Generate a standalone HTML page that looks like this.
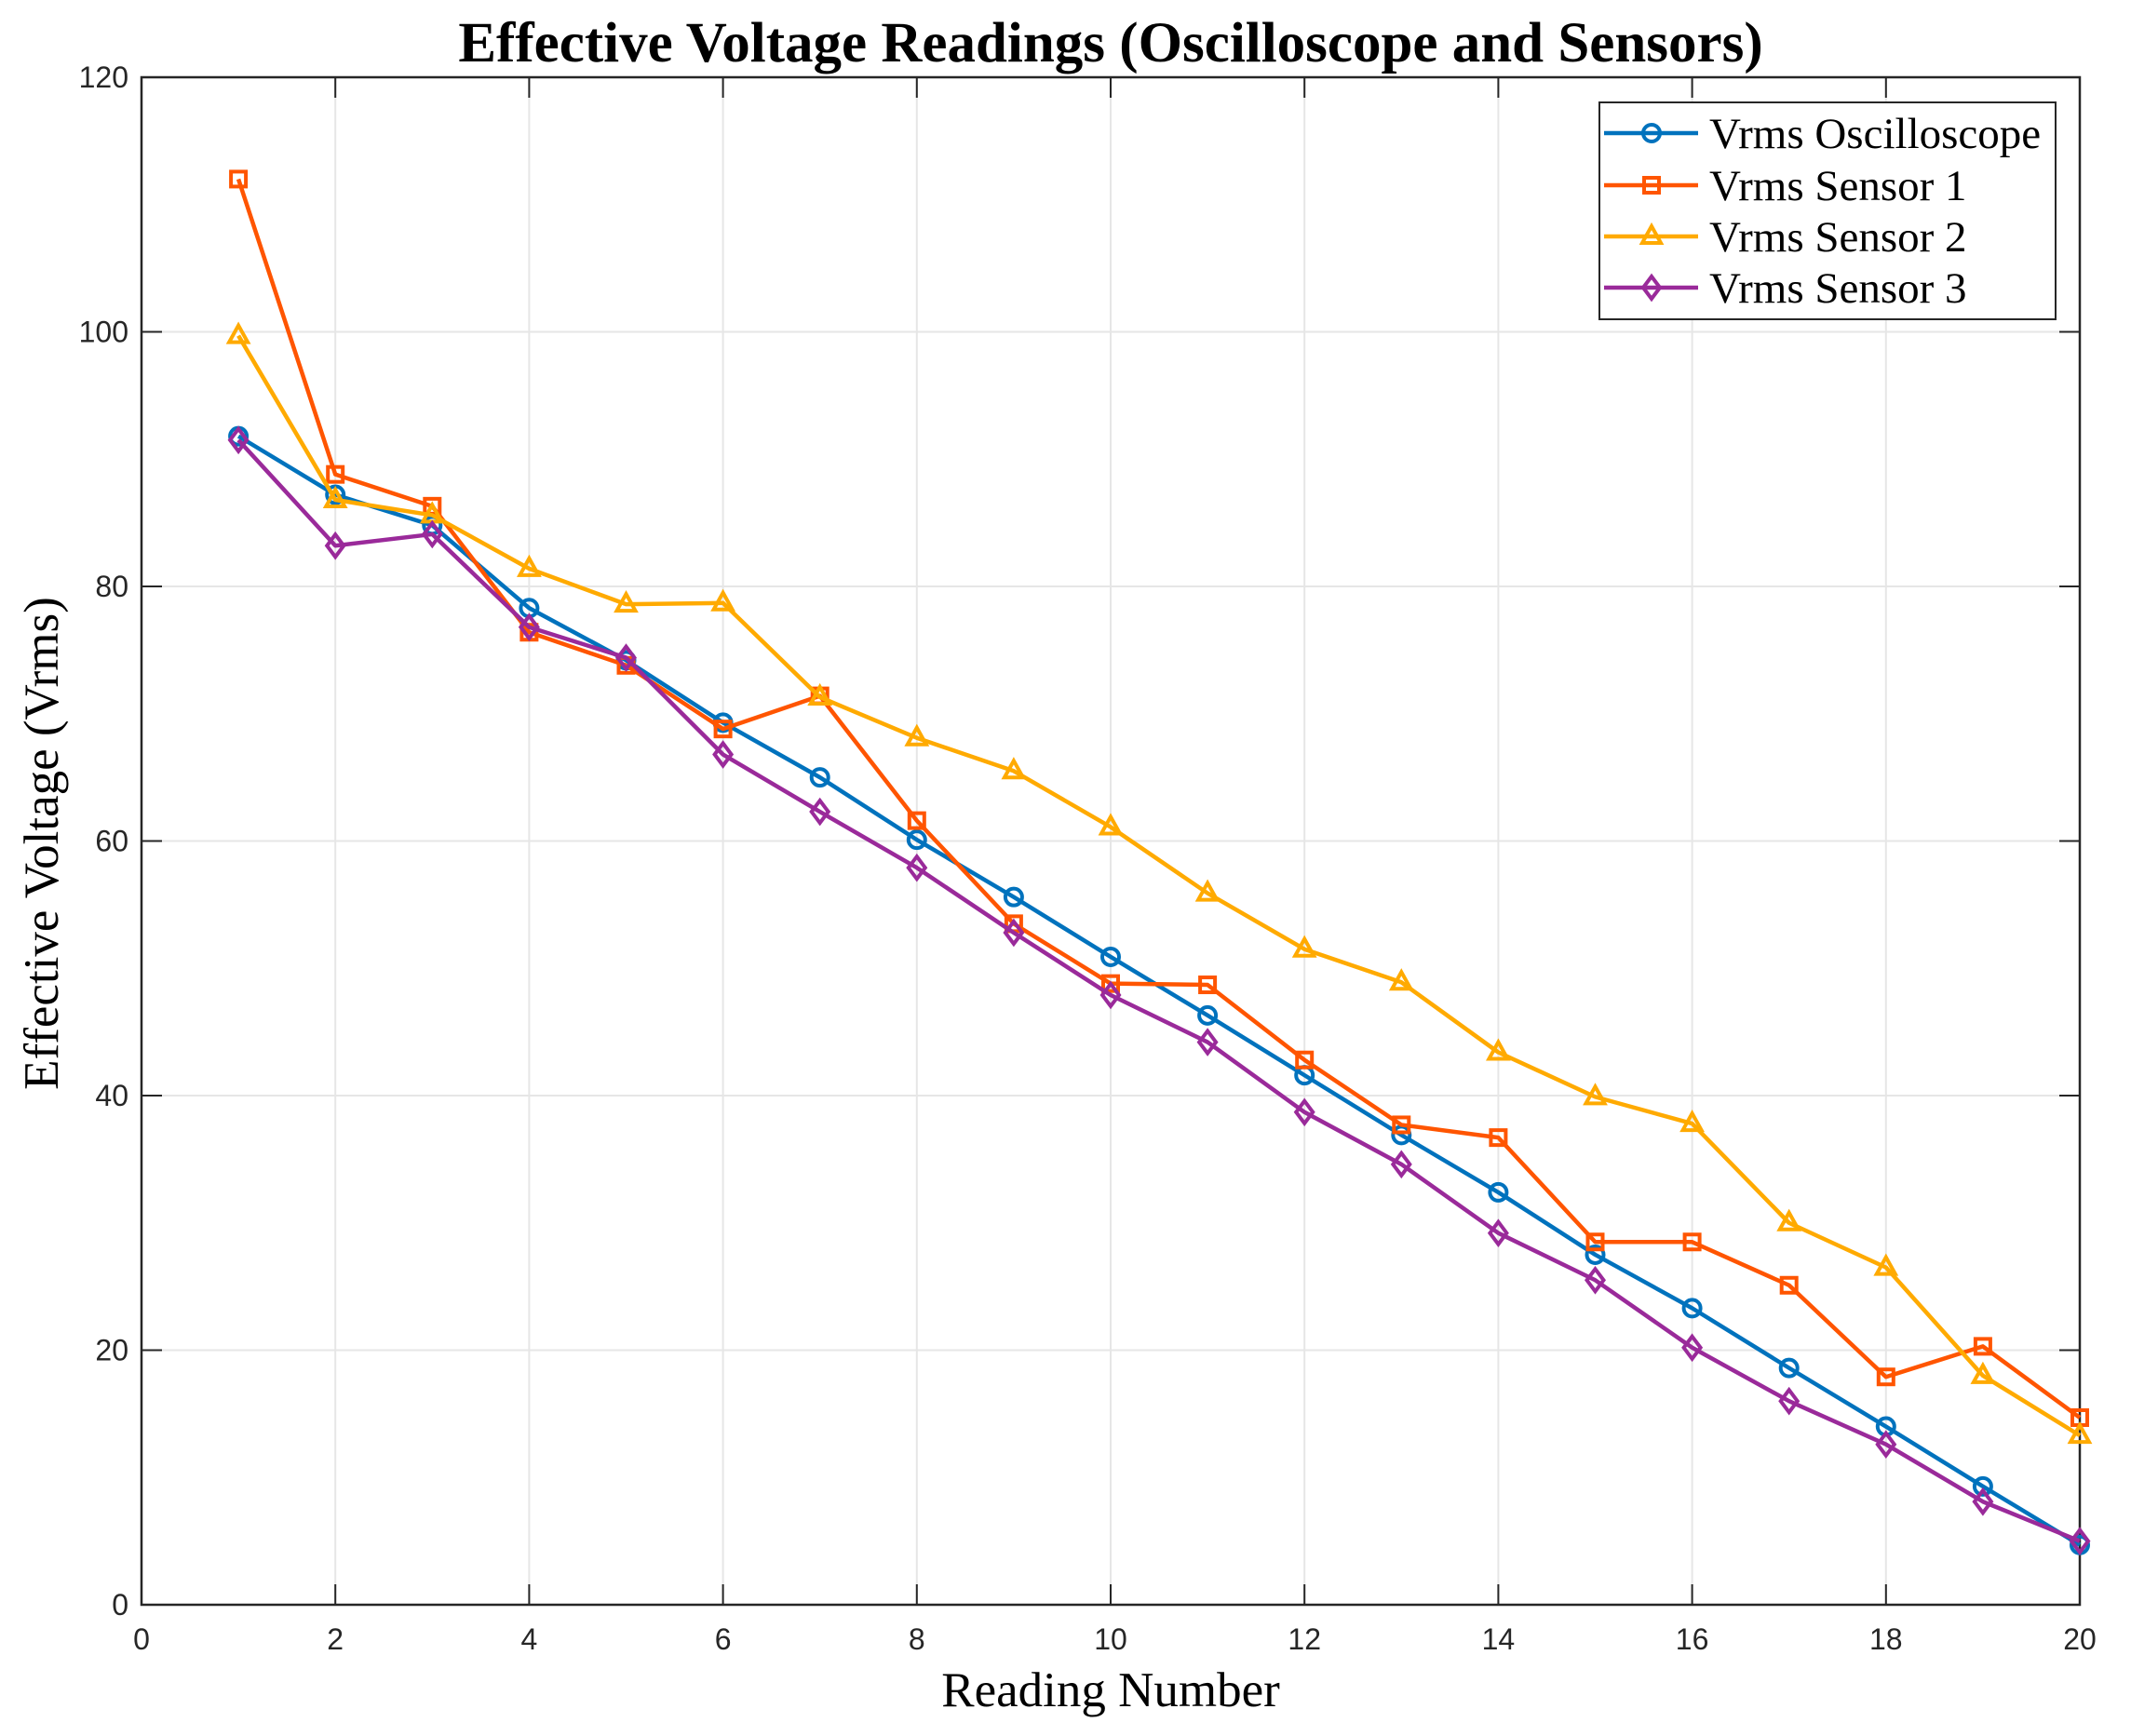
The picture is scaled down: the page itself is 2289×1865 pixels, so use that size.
<!DOCTYPE html>
<html><head><meta charset="utf-8"><style>
html,body{margin:0;padding:0;background:#fff;}
svg{display:block;}
</style></head><body>
<svg id="chart" width="2289" height="1865" xmlns="http://www.w3.org/2000/svg">
<rect width="2289" height="1865" fill="#fff"/>
<g id="grid"></g>
<g id="axes"></g>
<g id="series"></g>
<text x="1193" y="66" text-anchor="middle" font-family="Liberation Serif, serif" font-weight="bold" font-size="61">Effective Voltage Readings (Oscilloscope and Sensors)</text>
<text x="1193" y="1833" text-anchor="middle" font-family="Liberation Serif, serif" font-size="53">Reading Number</text>
<text transform="translate(62,906) rotate(-90)" text-anchor="middle" font-family="Liberation Serif, serif" font-size="53">Effective Voltage (Vrms)</text>
<g id="legend"></g>
</svg>
<script>
const readings = [1,2,3,4,5,6,7,8,9,10,11,12,13,14,15,16,17,18,19,20];
const oscValues = [91.8,87.2,84.8,78.3,74.2,69.3,65.0,60.1,55.6,50.9,46.3,41.6,36.9,32.4,27.5,23.3,18.6,14.0,9.3,4.7];
const sensor1Values = [112,88.8,86.3,76.4,73.8,68.8,71.4,61.6,53.5,48.8,48.7,42.8,37.7,36.7,28.5,28.5,25.1,17.9,20.3,14.7];
const sensor2Values = [99.7,86.8,85.6,81.4,78.6,78.7,71.3,68.1,65.5,61.1,55.9,51.5,48.9,43.4,39.9,37.8,30.0,26.5,18.0,13.3];
const sensor3Values = [91.5,83.2,84.1,76.8,74.4,66.8,62.3,57.9,52.8,47.9,44.2,38.7,34.6,29.2,25.5,20.2,16.0,12.6,8.1,5.0];
const seriesNames = ["Vrms Oscilloscope","Vrms Sensor 1","Vrms Sensor 2","Vrms Sensor 3"];
const xTicks = [0,2,4,6,8,10,12,14,16,18,20];
const yTicks = [0,20,40,60,80,100,120];

const L=152,R=2234,T=83,B=1724;
const xs=v=>L+(v-0)/20*(R-L);
const ys=v=>B-(v-0)/120*(B-T);
const NS="http://www.w3.org/2000/svg";
function mk(tag,attrs,parent){const e=document.createElementNS(NS,tag);for(const k in attrs)e.setAttribute(k,attrs[k]);parent.appendChild(e);return e;}
const grid=document.getElementById('grid'),axes=document.getElementById('axes'),ser=document.getElementById('series'),leg=document.getElementById('legend');

xTicks.forEach(t=>{
  const g=mk('line',{x1:xs(t),x2:xs(t),y1:T,y2:B,stroke:'#e6e6e6','stroke-width':2},grid);
  
  
  mk('line',{x1:xs(t),x2:xs(t),y1:B,y2:B-22,stroke:'#262626','stroke-width':2},axes);
  mk('line',{x1:xs(t),x2:xs(t),y1:T,y2:T+22,stroke:'#262626','stroke-width':2},axes);
  const lb=mk('text',{x:xs(t),y:B+48,'text-anchor':'middle','font-family':'Liberation Sans, sans-serif','font-size':32,fill:'#262626'},axes);
  lb.textContent=t;
  
  
});
yTicks.forEach(t=>{
  const g=mk('line',{x1:L,x2:R,y1:ys(t),y2:ys(t),stroke:'#e6e6e6','stroke-width':2},grid);
  
  
  mk('line',{x1:L,x2:L+22,y1:ys(t),y2:ys(t),stroke:'#262626','stroke-width':2},axes);
  mk('line',{x1:R,x2:R-22,y1:ys(t),y2:ys(t),stroke:'#262626','stroke-width':2},axes);
  const lb=mk('text',{x:L-14,y:ys(t)+11,'text-anchor':'end','font-family':'Liberation Sans, sans-serif','font-size':32,fill:'#262626'},axes);
  lb.textContent=t;
  
  
});
const frame=mk('rect',{x:L,y:T,width:R-L,height:B-T,fill:'none',stroke:'#262626','stroke-width':2.5},axes);



const colors=['#0072BD','#FF5500','#FFAA00','#9A2A9A'];
const markers=['circle','square','triangle','diamond'];
function marker(type,x,y,c,p){
  const s=9;
  if(type==='circle')return mk('circle',{cx:x,cy:y,r:s,fill:'none',stroke:c,'stroke-width':4},p);
  if(type==='square')return mk('rect',{x:x-s+1,y:y-s+1,width:2*s-2,height:2*s-2,fill:'none',stroke:c,'stroke-width':4},p);
  if(type==='triangle')return mk('polygon',{points:`${x},${y-s-2} ${x+s+1},${y+s-2} ${x-s-1},${y+s-2}`,fill:'none',stroke:c,'stroke-width':4},p);
  return mk('polygon',{points:`${x},${y-s-3} ${x+s},${y} ${x},${y+s+3} ${x-s},${y}`,fill:'none',stroke:c,'stroke-width':4},p);
}
[oscValues,sensor1Values,sensor2Values,sensor3Values].forEach((vals,i)=>{
  const g=mk('g',{},ser);
  
  
  const pts=vals.map((v,j)=>xs(readings[j])+','+ys(v)).join(' ');
  const pl=mk('polyline',{points:pts,fill:'none',stroke:colors[i],'stroke-width':4.5,'stroke-linejoin':'round'},g);
  
  
  vals.forEach((v,j)=>{
    const m=marker(markers[i],xs(readings[j]),ys(v),colors[i],g);
    
    
  });
});

const box=mk('rect',{x:1718,y:110,width:490,height:233,fill:'#fff',stroke:'#262626','stroke-width':2},leg);


const ly=[143,199,254,309];
seriesNames.forEach((n,i)=>{
  const g=mk('g',{},leg);
  
  
  mk('line',{x1:1723,x2:1824,y1:ly[i],y2:ly[i],stroke:colors[i],'stroke-width':4.5},g);
  marker(markers[i],1774,ly[i],colors[i],g);
  const t=mk('text',{x:1836,y:ly[i]+16,'font-family':'Liberation Serif, serif','font-size':47,fill:'#000'},g);
  t.textContent=n;
});
</script>
</body></html>
